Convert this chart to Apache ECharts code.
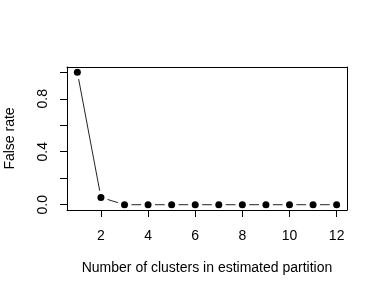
<!DOCTYPE html>
<html><head><meta charset="utf-8">
<script src="https://cdn.jsdelivr.net/npm/echarts@6/dist/echarts.min.js"></script>
<style>html,body{margin:0;padding:0;background:#fff}#c{width:382px;height:294px}</style>
</head><body><div id="c"></div>
<script>
const clusters = [1,2,3,4,5,6,7,8,9,10,11,12];
const falseRate = [1.0,0.055,0,0,0,0,0,0,0,0,0,0];
const xTicks = [2,4,6,8,10,12];
const yTicks = [0,0.2,0.4,0.6,0.8,1.0];
const yLabels = [0,0.4,0.8];
const xTitle = 'Number of clusters in estimated partition';
const yTitle = 'False rate';

const pts = clusters.map((c,i)=>[c,falseRate[i]]);
const font = '"Liberation Sans", Arial, sans-serif';
const chart = echarts.init(document.getElementById('c'), null, {renderer:'canvas'});
const lineC = '#000';
const fs = 14;
chart.setOption({
  animation:false,
  grid:{left:67,right:35,top:67,bottom:84,containLabel:false,outerBoundsMode:'none'},
  xAxis:[{
    type:'value', min:0.56, max:12.44, position:'bottom', z:10,
    splitLine:{show:false},
    axisLine:{show:true,onZero:false,lineStyle:{color:lineC,width:1}},
    axisTick:{show:true,customValues:xTicks,length:7,lineStyle:{color:lineC}},
    axisLabel:{customValues:xTicks,margin:19,color:'#000',fontSize:fs,fontFamily:font},
    name:xTitle,nameLocation:'middle',nameGap:51,
    nameTextStyle:{color:'#000',fontSize:fs,fontFamily:font}
  },{
    type:'value', min:0.56, max:12.44, position:'top', z:10,
    splitLine:{show:false},axisTick:{show:false},axisLabel:{show:false},
    axisLine:{show:true,onZero:false,lineStyle:{color:lineC,width:1}}
  }],
  yAxis:[{
    type:'value', min:-0.04, max:1.04, position:'left', z:10,
    splitLine:{show:false},
    axisLine:{show:true,onZero:false,lineStyle:{color:lineC,width:1}},
    axisTick:{show:true,customValues:yTicks,length:7,lineStyle:{color:lineC}},
    axisLabel:{customValues:yLabels,rotate:90,margin:17,color:'#000',fontSize:fs,fontFamily:font,
      formatter:v=>v.toFixed(1)},
    name:yTitle,nameLocation:'middle',nameGap:50,nameRotate:90,
    nameTextStyle:{color:'#000',fontSize:fs,fontFamily:font}
  },{
    type:'value', min:-0.04, max:1.04, position:'right', z:10,
    splitLine:{show:false},axisTick:{show:false},axisLabel:{show:false},
    axisLine:{show:true,onZero:false,lineStyle:{color:lineC,width:1}}
  }],
  series:[{
    type:'line', data:pts, z:2, showSymbol:false,
    lineStyle:{color:'#222',width:1},
    emphasis:{disabled:true}
  },{
    type:'scatter', data:pts, z:3,
    symbol:'circle', symbolSize:14,
    itemStyle:{color:'#fff',opacity:1},
    emphasis:{disabled:true}
  },{
    type:'scatter', data:pts, z:4,
    symbol:'circle', symbolSize:7,
    itemStyle:{color:'#000',opacity:1},
    emphasis:{disabled:true}
  }]
});
</script></body></html>
